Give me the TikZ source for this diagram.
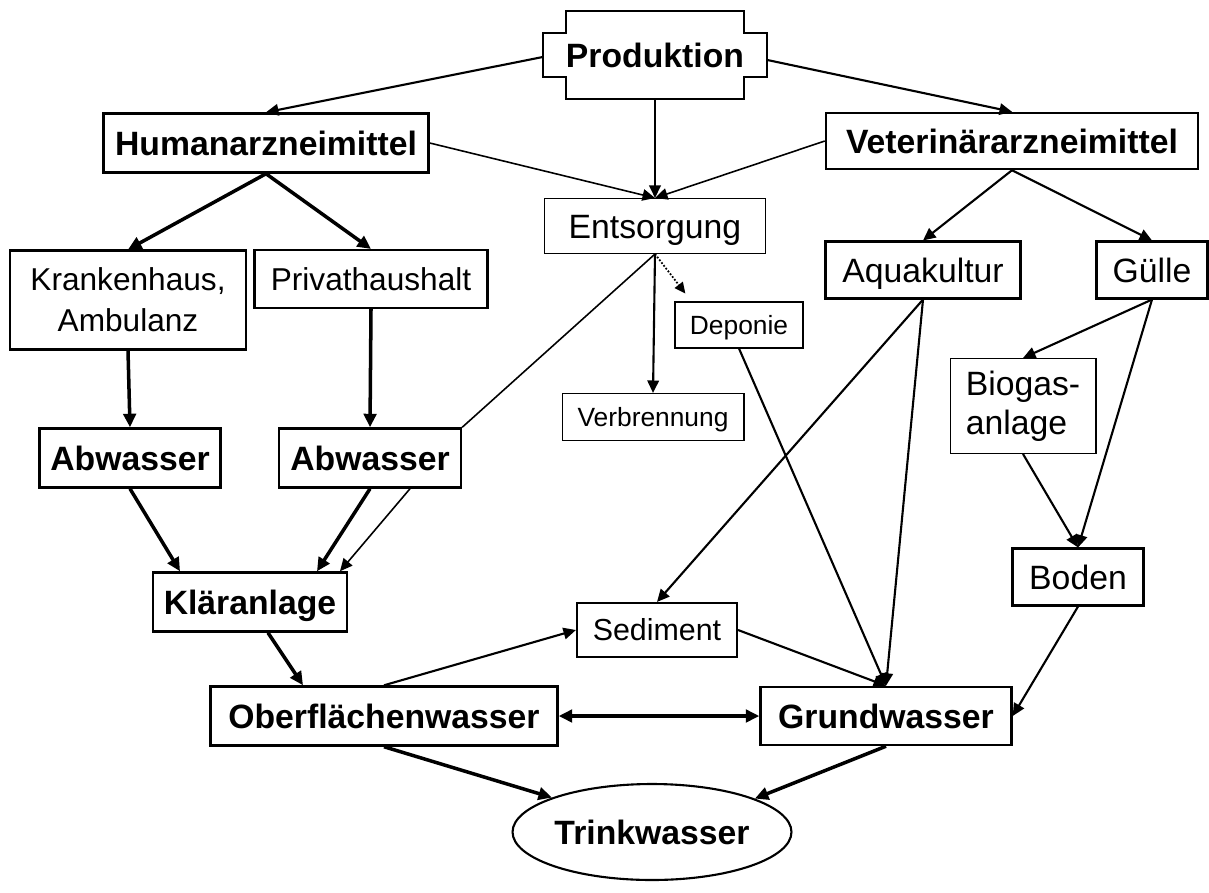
\documentclass[tikz,border=0pt]{standalone}
\usepackage{fontspec}
\setmainfont{Liberation Sans}
\usetikzlibrary{shapes.geometric,arrows.meta,calc}
\pgfdeclarelayer{edgelayer}
\pgfdeclarelayer{nodelayer}
\pgfsetlayers{edgelayer,nodelayer,main}
\tikzset{font=\fontsize{19.2}{23}\selectfont}
\tikzstyle{none}=[inner sep=0pt]
\tikzstyle{box}=[draw,line width=1.4pt,inner sep=0pt,text height=17pt,text depth=3.2pt,font=\fontsize{19.2}{23}\selectfont\bfseries]
\tikzstyle{plainbox}=[draw,line width=1.2pt,inner sep=0pt,align=center,text height=17pt,text depth=3.2pt]
\tikzstyle{thinbox}=[draw,line width=0.6pt,inner sep=0pt,align=center,text height=17pt,text depth=3.2pt]
\tikzstyle{twolines}=[text height={},text depth={}]
\tikzstyle{smallbox}=[thinbox,text height=13pt,text depth=2.3pt,font=\fontsize{15}{18}\selectfont]
\tikzstyle{oval}=[ellipse,draw,line width=1.2pt,inner sep=0pt,font=\fontsize{19.2}{23}\selectfont\bfseries]
\tikzstyle{flow}=[line width=1.2pt,-{Triangle[length=0.25cm,width=0.23cm]}]
\tikzstyle{thickflow}=[line width=2pt,-{Triangle[length=0.27cm,width=0.25cm]}]
\tikzstyle{thinflow}=[line width=0.9pt,-{Triangle[length=0.25cm,width=0.23cm]}]
\tikzstyle{plainline}=[line width=0.9pt]
\tikzstyle{dotflow}=[line width=1pt,densely dotted,-{Triangle[length=0.22cm,width=0.2cm]}]

\begin{document}
\begin{tikzpicture}[x=0.02cm,y=-0.02cm]
	\useasboundingbox (0,0) rectangle (1209,892);
	\begin{pgfonlayer}{nodelayer}
		\node [style=none, minimum width=4.48cm, minimum height=1.76cm, text height=17pt, text depth=3.2pt, font=\fontsize{19.2}{23}\selectfont\bfseries] (prod) at (655,55) {Produktion};
		\node [style=box, minimum width=6.5cm, minimum height=1.18cm] (human) at (266,143) {Humanarzneimittel};
		\node [style=box, minimum width=7.44cm, minimum height=1.12cm] (vet) at (1012,141) {Veterinärarzneimittel};
		\node [style=thinbox, minimum width=4.42cm, minimum height=1.1cm] (ents) at (655,226) {Entsorgung};
		\node [style=smallbox, minimum width=2.56cm, minimum height=0.92cm] (depo) at (739,325) {Deponie};
		\node [style=smallbox, minimum width=3.64cm, minimum height=0.94cm] (verb) at (653,417) {Verbrennung};
		\node [style=plainbox, style=twolines, minimum width=4.72cm, minimum height=1.98cm, font=\fontsize{18}{23.4}\selectfont] (kranken) at (128,300) {Krankenhaus,\\Ambulanz};
		\node [style=plainbox, minimum width=4.66cm, minimum height=1.16cm, text height=16pt, text depth=3pt, font=\fontsize{18}{23}\selectfont] (privat) at (371,279) {Privathaushalt};
		\node [style=box, minimum width=3.62cm, minimum height=1.18cm] (abw1) at (130,458) {Abwasser};
		\node [style=box, minimum width=3.64cm, minimum height=1.18cm] (abw2) at (370,458) {Abwasser};
		\node [style=box, minimum width=3.88cm, minimum height=1.18cm] (klaer) at (250,602) {Kläranlage};
		\node [style=plainbox, minimum width=3.9cm, minimum height=1.14cm] (aqua) at (923,270) {Aquakultur};
		\node [style=plainbox, minimum width=2.22cm, minimum height=1.14cm] (guelle) at (1152,270) {Gülle};
		\node [style=thinbox, style=twolines, minimum width=2.92cm, minimum height=1.9cm, align=left, font=\fontsize{19.2}{22}\selectfont] (biogas) at (1023,406) {Biogas-\\anlage};
		\node [style=plainbox, minimum width=2.62cm, minimum height=1.14cm] (boden) at (1078,577) {Boden};
		\node [style=plainbox, minimum width=3.2cm, minimum height=1.08cm, text height=15.4pt, text depth=3pt, font=\fontsize{17.3}{21}\selectfont] (sed) at (657,630) {Sediment};
		\node [style=box, minimum width=5.02cm, minimum height=1.16cm] (grund) at (886,716) {Grundwasser};
		\node [style=box, minimum width=6.94cm, minimum height=1.18cm] (oberfl) at (384,716) {Oberflächenwasser};
		\node [style=oval, minimum width=5.58cm, minimum height=1.92cm] (trink) at (652,832) {Trinkwasser};
		% Produktion outline
		\draw [line width=1.4pt] (prod.center) ++(-89,-44) -- ++(178,0) -- ++(0,22) -- ++(23,0) -- ++(0,44) -- ++(-23,0) -- ++(0,22) -- ++(-178,0) -- ++(0,-22) -- ++(-23,0) -- ++(0,-44) -- ++(23,0) -- cycle;
	\end{pgfonlayer}
	\begin{pgfonlayer}{edgelayer}
		\draw [style=flow] ([yshift=-0.04cm]prod.west) to (human.north);
		\draw [style=flow] ([yshift=-0.1cm]prod.east) to (vet.north);
		\draw [style=flow] (prod.south) to (ents.north);
		\draw [style=thinflow] (human.east) to (ents.north);
		\draw [style=thinflow] (vet.west) to (ents.north);
		\draw [style=thickflow] (human.south) to (kranken.north);
		\draw [style=thickflow] (human.south) to (privat.north);
		\draw [style=thickflow] (kranken.south) to (abw1.north);
		\draw [style=thickflow] (privat.south) to (abw2.north);
		\draw [style=thickflow] (abw1.south) to ([xshift=-1.4cm]klaer.north);
		\draw [style=thickflow] (abw2.south) to ([xshift=1.34cm]klaer.north);
		\draw [style=thinflow] ([xshift=0.8cm]abw2.south) to ([xshift=1.8cm]klaer.north);
		\draw [style=plainline] (ents.south) to (abw2.north east);
		\draw [style=flow] (ents.south) to (verb.north);
		\draw [style=dotflow, shorten >=0.2cm] (ents.south) to ([xshift=0.34cm]depo.north west);
		\draw [style=flow] (vet.south) to (aqua.north);
		\draw [style=flow] (vet.south) to (guelle.north);
		\draw [style=flow] (guelle.south) to (biogas.north);
		\draw [style=flow] (guelle.south) to (boden.north);
		\draw [style=flow] (biogas.south) to (boden.north);
		\draw [style=flow] (aqua.south) to (sed.north);
		\draw [style=flow] (aqua.south) to (grund.north);
		\draw [style=flow] (depo.south) to (grund.north);
		\draw [style=flow] (sed.east) to (grund.north);
		\draw [style=flow] (boden.south) to (grund.east);
		\draw [style=thickflow] ([xshift=0.36cm]klaer.south) to ([xshift=-1.62cm]oberfl.north);
		\draw [style=flow] (oberfl.north) to (sed.west);
		\draw [style=thickflow, {Triangle[length=0.27cm,width=0.25cm]}-{Triangle[length=0.27cm,width=0.25cm]}] (oberfl.east) to (grund.west);
		\draw [style=thickflow] (oberfl.south) to (trink.161);
		\draw [style=thickflow] (grund.south) to (trink.18);
	\end{pgfonlayer}
\end{tikzpicture}
\end{document}
